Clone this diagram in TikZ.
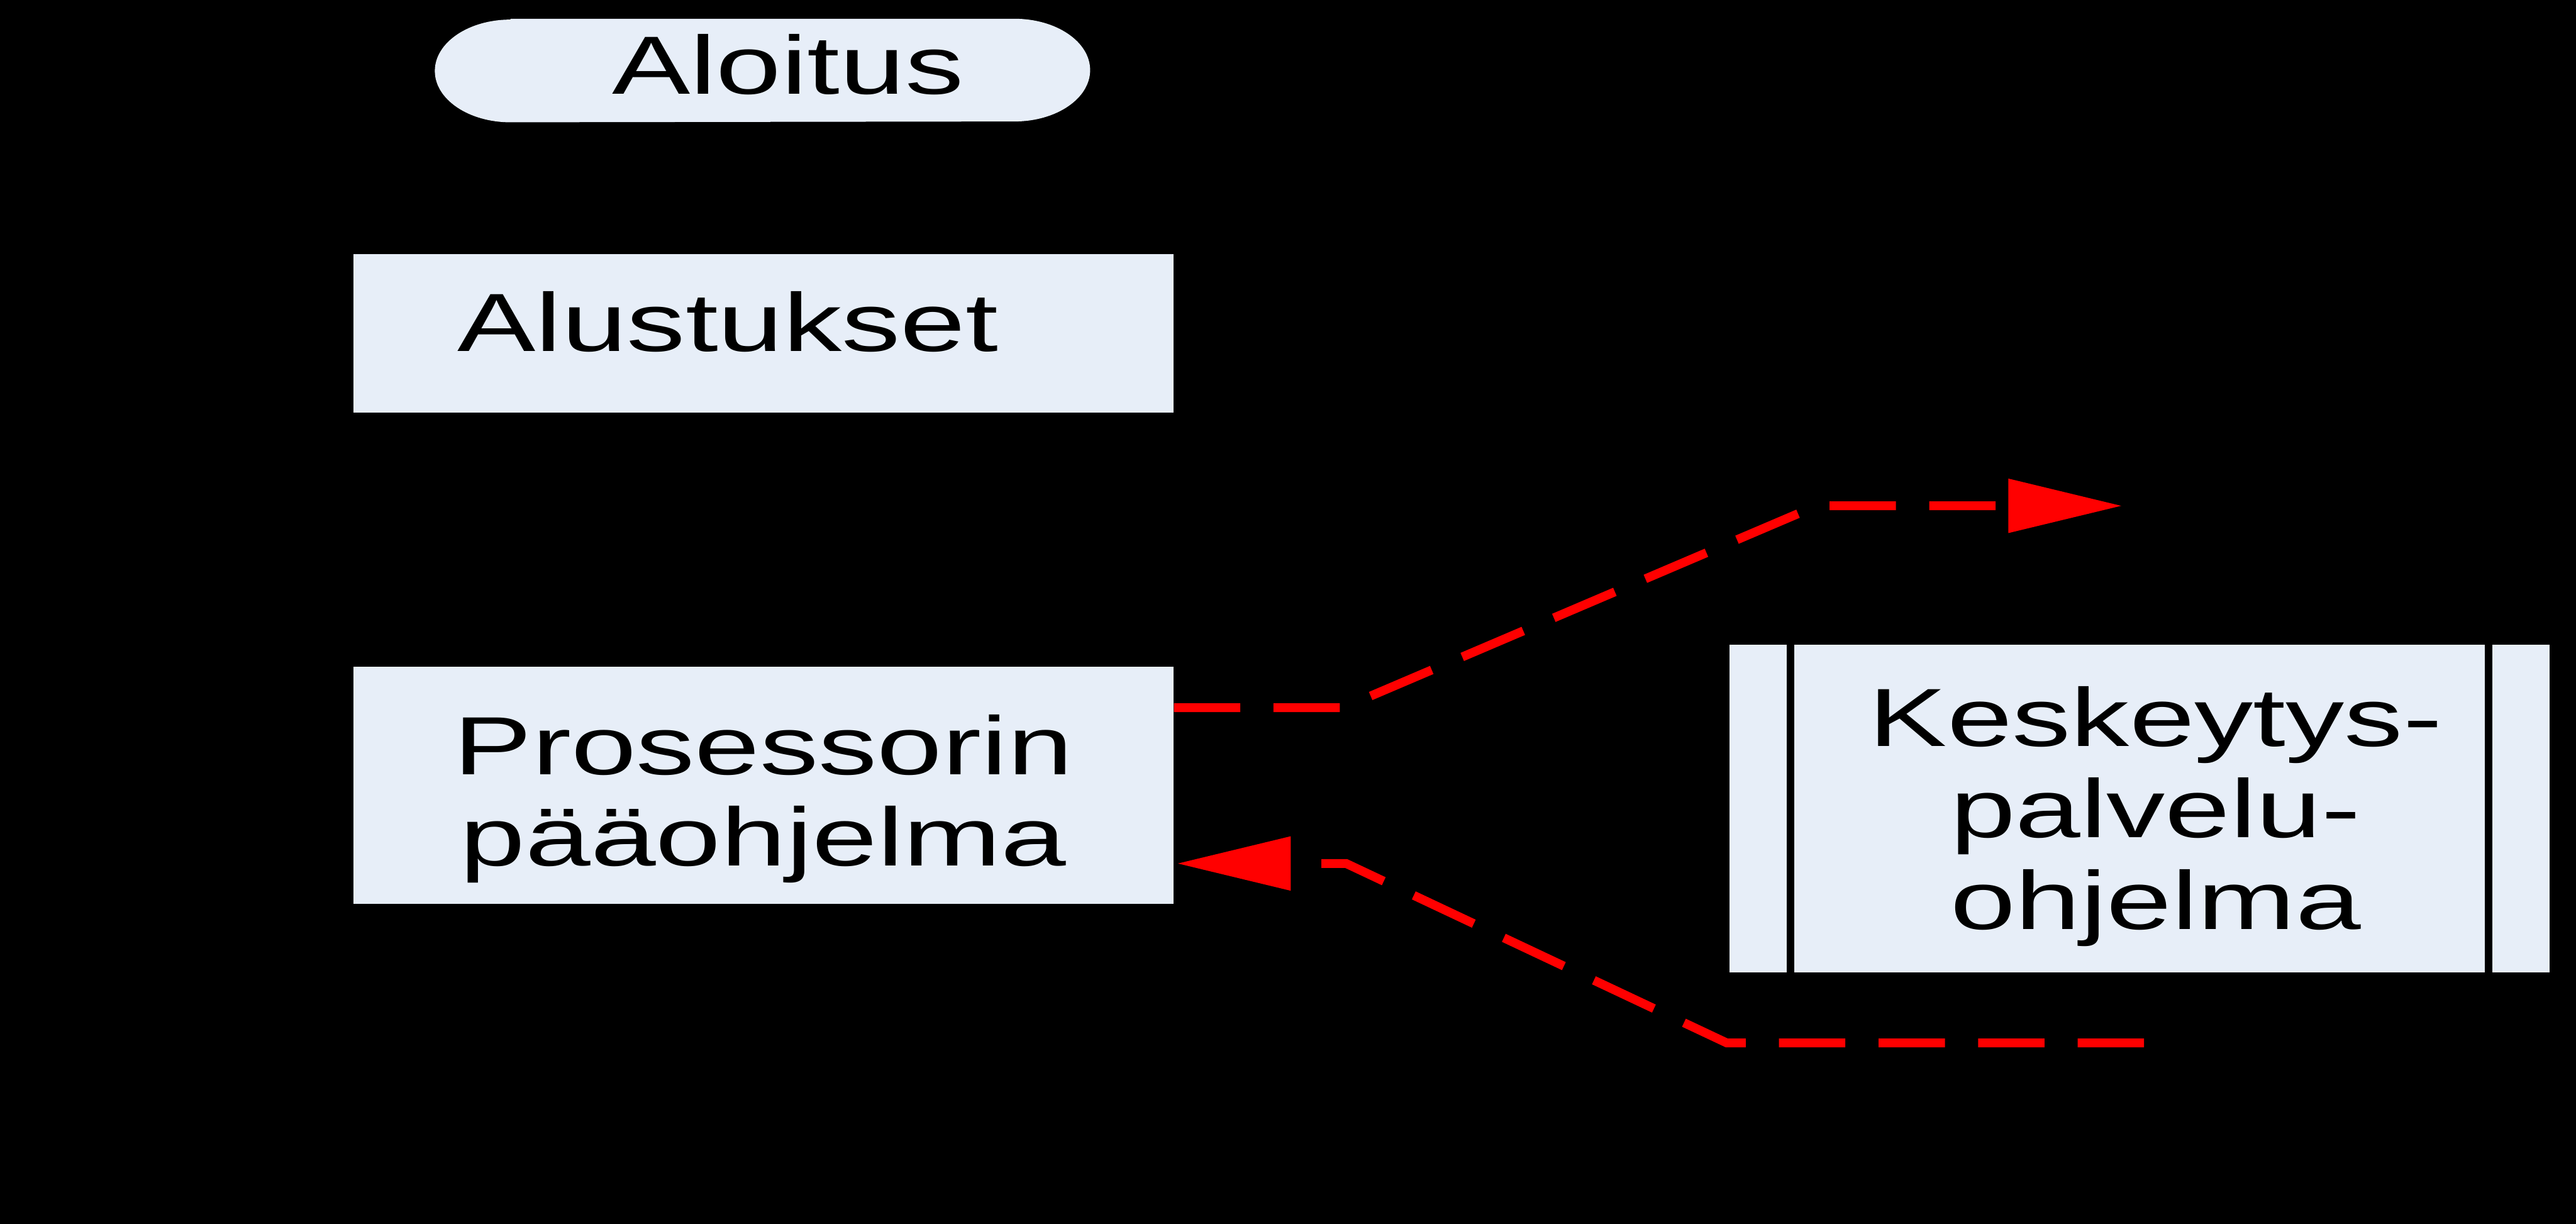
\documentclass[tikz,border=0pt]{standalone}
\usepackage{fontspec}
\setmainfont{Liberation Sans}[FakeStretch=1.42]
\usepackage{tikz}
\usetikzlibrary{positioning, calc, arrows.meta, backgrounds}

\definecolor{boxfill}{HTML}{E7EEF8}

\begin{document}
\begin{tikzpicture}[
        boxbase/.style={fill=boxfill, inner sep=0pt, align=center,
            font=\fontsize{39.8}{44}\selectfont, text height=1cm},
        startbox/.style={boxbase, fill=none, minimum width=11.09cm, minimum height=1.74cm,
            text depth=0.2cm},
        procbox/.style={boxbase, minimum width=13.9cm},
        subline/.style={line width=0.13cm, black},
        irqline/.style={red, line width=0.15cm, dash pattern=on 32pt off 16pt,
            -{Triangle[length=1.93cm, width=0.88cm]}}
    ]

    \useasboundingbox (0,0) rectangle (43.65,-20.73);

    \node[startbox] (start) at (12.92,-1.195) {\hspace*{0.86cm}Aloitus};
    \node[procbox, minimum height=2.69cm, text depth=0.38cm] (init) at (12.935,-5.645) {Alustukset\hspace*{1.2cm}};
    \node[procbox, minimum height=4.01cm, text height=3.03cm, text depth=0.3cm] (main) at (12.935,-13.305) {Prosessorin\\pääohjelma};
    \node[procbox, minimum height=5.55cm, text height=4.39cm, text depth=0.3cm] (isr) at (36.255,-13.695) {\hspace*{0.54cm}Keskeytys-\\\hspace*{0.54cm}palvelu-\\\hspace*{0.54cm}ohjelma};

    \begin{scope}[on background layer]
        \fill[black] (-0.2,0.2) rectangle (43.85,-20.93);
        \fill[boxfill] ([xshift=1.28cm]start.north west) -- ([xshift=-1.28cm]start.north east)
            arc[start angle=90, end angle=-90, x radius=1.28cm, y radius=0.87cm]
            -- ([xshift=1.28cm]start.south west)
            arc[start angle=270, end angle=90, x radius=1.28cm, y radius=0.87cm] -- cycle;
    \end{scope}

    \draw[subline] ([xshift=1.04cm]isr.north west) -- ([xshift=1.04cm]isr.south west);
    \draw[subline] ([xshift=-1.04cm]isr.north east) -- ([xshift=-1.04cm]isr.south east);

    \coordinate (irqgo) at (35.96,-8.57);
    \coordinate (irqback) at (36.33,-17.67);

    \draw[irqline] ([yshift=1.315cm]main.east) -- ++(2.87,0) -- (30.78,-8.57) -- (irqgo);
    \draw[irqline] (irqback) -- (29.26,-17.67) -- (22.81,-14.63) -- ([xshift=0.05cm,yshift=-1.325cm]main.east);

\end{tikzpicture}
\end{document}
